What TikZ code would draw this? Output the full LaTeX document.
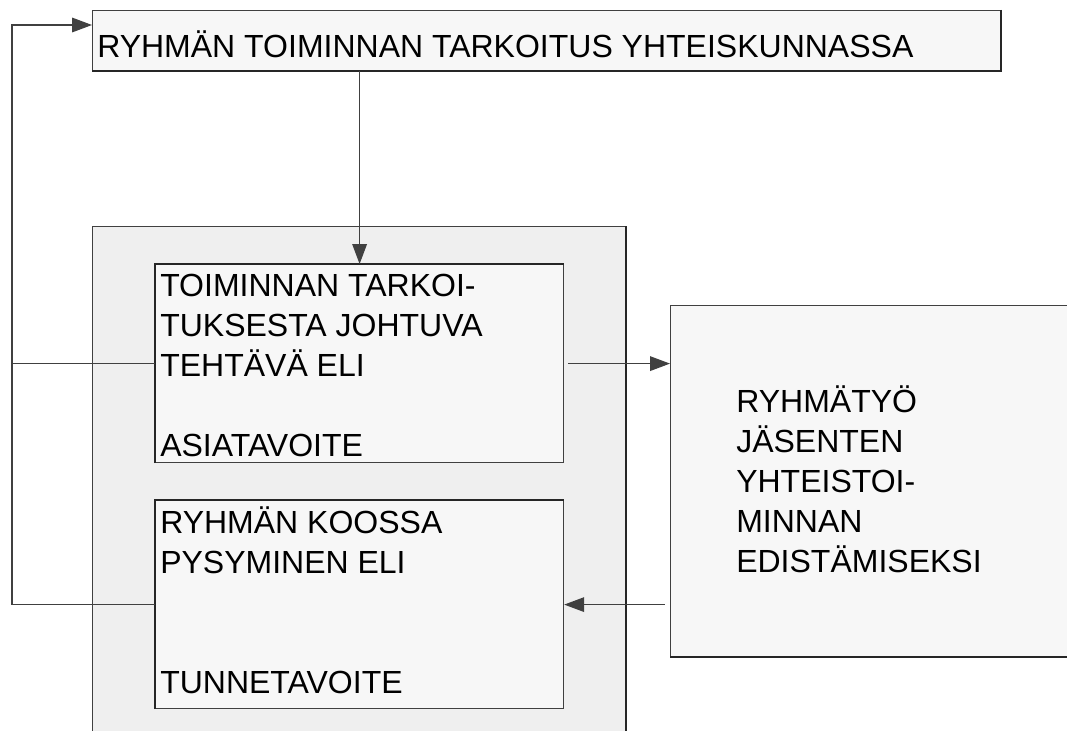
\documentclass[tikz,border=0pt]{standalone}
\usepackage{fontspec}
\setmainfont{Liberation Sans}
\usetikzlibrary{arrows.meta}

\definecolor{boxfill}{HTML}{F7F7F7}
\definecolor{areafill}{HTML}{EFEFEF}
\definecolor{linegray}{HTML}{404040}

\begin{document}
\begin{tikzpicture}[x=0.75pt, y=-0.75pt,
	box/.style={draw=linegray, line width=0.9pt, fill=boxfill, inner sep=0pt, anchor=north west},
	edge/.style={draw=black!85, line width=1.8pt},
	txt/.style={align=left, inner sep=0pt, anchor=base west, font=\fontsize{24}{30}\selectfont},
	line/.style={draw=linegray, line width=0.9pt},
	arr/.style={line, -{Triangle[length=15pt, width=11pt]}}]
	\useasboundingbox (0, 0) rectangle (1067, 731);
	\clip (0, 0) rectangle (1067, 731);
	\fill[white] (0, 0) rectangle (1067, 731);

	% boxes
	\node[box, minimum width=681pt, minimum height=45pt] (purpose) at (92, 10) {};
	\node[box, fill=areafill, minimum width=399.75pt, minimum height=390pt] (area) at (92, 226) {};
	\node[box, minimum width=306pt, minimum height=148.5pt] (task) at (155, 264) {};
	\node[box, minimum width=306pt, minimum height=156pt] (keep) at (155, 500) {};
	\node[box, minimum width=306pt, minimum height=263.25pt] (work) at (670, 305) {};

	% heavier edges
	\draw[edge] (purpose.north east) -- (purpose.south east) -- (purpose.south west);
	\draw[edge] (area.north east) -- (area.south east);
	\draw[edge] (task.south west) -- (task.north west) -- (task.north east);
	\draw[edge] (keep.south west) -- (keep.north west) -- (keep.north east);
	\draw[edge] (work.south west) -- (work.south east);

	% texts (base = last line)
	\node[txt] (purposetext) at (97, 58) {RYHMÄN TOIMINNAN TARKOITUS YHTEISKUNNASSA};
	\node[txt] (tasktext) at (160, 456) {TOIMINNAN TARKOI-\\TUKSESTA JOHTUVA\\TEHTÄVÄ ELI\\[30pt]ASIATAVOITE};
	\node[txt] (keeptext) at (160, 693) {RYHMÄN KOOSSA\\PYSYMINEN ELI\\[60pt]TUNNETAVOITE};
	\node[txt] (worktext) at (736, 572) {RYHMÄTYÖ\\JÄSENTEN\\YHTEISTOI-\\MINNAN\\EDISTÄMISEKSI};

	% connectors
	\coordinate (loop) at (12, 25);

	\draw[arr] (purpose.south -| task.north) -- (task.north);
	\draw[arr] ([xshift=3pt]task.east) -- (work.west |- task.east);
	\draw[arr] ([xshift=-4pt]work.west |- keep.east) -- (keep.east);
	\draw[line] (task.west) -- (task.west -| loop);
	\draw[arr] (keep.west) -| (loop) -- (purpose.west |- loop);
\end{tikzpicture}
\end{document}
